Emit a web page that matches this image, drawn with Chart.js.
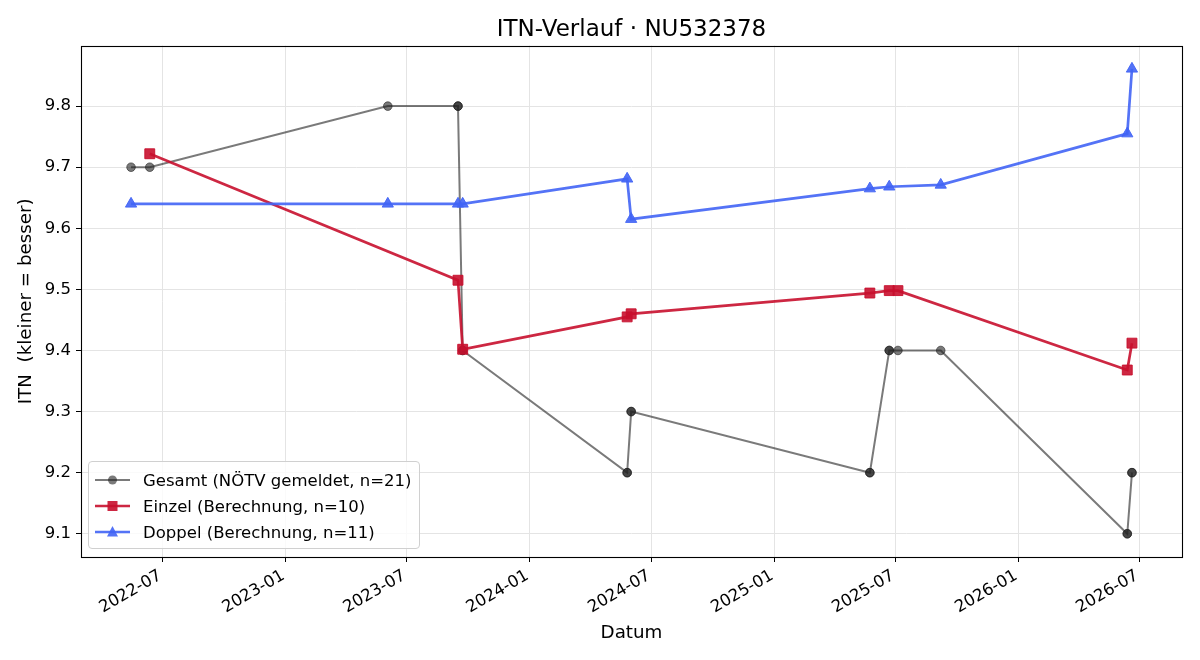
<!DOCTYPE html>
<html lang="de">
<head>
<meta charset="UTF-8">
<title>ITN-Verlauf</title>
<script src="https://cdn.jsdelivr.net/npm/chart.js"></script>
<style>
  body { margin: 0; background: #fff; }
  #wrap { position: relative; width: 1200px; height: 660px; }
  #legend {
    position: absolute; left: 88px; top: 461px; width: 330px; height: 81px;
    border: 1px solid #d0d0d0; border-radius: 4px; background: rgba(255,255,255,0.8);
    font-family: "DejaVu Sans", sans-serif; font-size: 16.5px; color: #000;
    box-sizing: content-box; padding-top: 5px;
  }
  #legend .row { height: 26px; display: flex; align-items: center; white-space: nowrap; }
  #legend svg { margin-left: 6px; margin-right: 13px; }
</style>
</head>
<body>
<div id="wrap">
  <canvas id="itn" width="1200" height="660"></canvas>
  <div id="legend"></div>
</div>
<script>
// data
const gesamtDates = ['2022-05-15', '2022-06-12', '2023-06-03', '2023-09-16', '2023-09-16', '2023-09-23', '2023-09-23',
    '2024-05-26', '2024-05-26', '2024-06-01', '2024-06-01', '2025-05-24', '2025-05-24', '2025-06-22', '2025-06-22',
    '2025-07-05', '2025-09-07', '2026-06-13', '2026-06-13', '2026-06-20', '2026-06-20'];
const gesamtValues = [9.7, 9.7, 9.8, 9.8, 9.8, 9.4, 9.4, 9.2, 9.2, 9.3, 9.3, 9.2, 9.2, 9.4, 9.4, 9.4, 9.4, 9.1, 9.1, 9.2, 9.2];

const einzelDates = ['2022-06-12', '2023-09-16', '2023-09-23', '2024-05-26', '2024-06-01', '2025-05-24', '2025-06-22',
    '2025-07-05', '2026-06-13', '2026-06-20'];
const einzelValues = [9.722, 9.515, 9.402, 9.455, 9.460, 9.494, 9.498, 9.498, 9.368, 9.412];

const doppelDates = ['2022-05-15', '2023-06-03', '2023-09-16', '2023-09-23', '2024-05-26', '2024-06-01', '2025-05-24',
    '2025-06-22', '2025-09-07', '2026-06-13', '2026-06-20'];
const doppelValues = [9.640, 9.640, 9.640, 9.640, 9.681, 9.615, 9.665, 9.668, 9.671, 9.755, 9.861];

const seriesLabels = ['Gesamt (NÖTV gemeldet, n=21)', 'Einzel (Berechnung, n=10)', 'Doppel (Berechnung, n=11)'];
const xTickLabels = ['2022-07', '2023-01', '2023-07', '2024-01', '2024-07', '2025-01', '2025-07', '2026-01', '2026-07'];
const yTickValues = [9.1, 9.2, 9.3, 9.4, 9.5, 9.6, 9.7, 9.8];

const FONT = '"DejaVu Sans", sans-serif';
const grayC = 'rgba(34,34,34,0.6)';
const redC = 'rgba(200,16,46,0.9)';
const blueC = 'rgba(65,100,245,0.9)';

const toTs = s => Date.parse(s + 'T00:00:00Z');
const pts = (dates, vals) => dates.map((d, i) => ({x: toTs(d), y: vals[i]}));

// matplotlib-like 5% margins
const allX = [...gesamtDates, ...einzelDates, ...doppelDates].map(toTs);
const allY = [...gesamtValues, ...einzelValues, ...doppelValues];
const xMin = Math.min(...allX), xMax = Math.max(...allX);
const yMin = Math.min(...allY), yMax = Math.max(...allY);
const xPad = (xMax - xMin) * 0.05, yPad = (yMax - yMin) * 0.05;

const frame = {
    id: 'frame',
    afterDraw(chart) {
        const {ctx, chartArea: a} = chart;
        ctx.save();
        ctx.strokeStyle = '#000';
        ctx.lineWidth = 1.1;
        ctx.strokeRect(Math.round(a.left) + 0.5, Math.round(a.top) + 0.5,
            Math.round(a.right - a.left), Math.round(a.bottom - a.top));
        ctx.restore();
    }
};

const tickFont = {family: FONT, size: 16.5};
const titleFont = {family: FONT, size: 18.3};

new Chart(document.getElementById('itn'), {
    type: 'line',
    data: {
        datasets: [
            {
                label: seriesLabels[0], data: pts(gesamtDates, gesamtValues), order: 2,
                borderColor: grayC, backgroundColor: grayC, borderWidth: 2,
                pointStyle: 'circle', pointRadius: 4.3, pointBorderWidth: 1,
                pointBackgroundColor: grayC, pointBorderColor: grayC
            },
            {
                label: seriesLabels[1], data: pts(einzelDates, einzelValues), order: 1,
                borderColor: redC, backgroundColor: redC, borderWidth: 2.7,
                pointStyle: 'rect', pointRadius: 7, pointBorderWidth: 1,
                pointBackgroundColor: redC, pointBorderColor: redC
            },
            {
                label: seriesLabels[2], data: pts(doppelDates, doppelValues), order: 0,
                borderColor: blueC, backgroundColor: blueC, borderWidth: 2.7,
                pointStyle: 'triangle', pointRadius: 6.5, pointBorderWidth: 1,
                pointBackgroundColor: blueC, pointBorderColor: blueC
            }
        ]
    },
    options: {
        responsive: false,
        animation: false,
        devicePixelRatio: 1,
        layout: {padding: {top: 0, right: 18, bottom: 0, left: 0}},
        plugins: {
            legend: {display: false},
            tooltip: {enabled: false},
            title: {
                display: true, text: 'ITN-Verlauf · NU532378', fullSize: false, color: '#000',
                font: {family: FONT, size: 23, weight: 'normal'},
                padding: {top: 16, bottom: 2}
            }
        },
        scales: {
            x: {
                type: 'linear',
                min: xMin - xPad,
                max: xMax + xPad,
                afterBuildTicks: s => { s.ticks = xTickLabels.map(l => ({value: toTs(l + '-01')})); },
                afterFit: s => { s.height = 103; },
                ticks: {
                    autoSkip: false, minRotation: 30, maxRotation: 30, padding: 4, labelOffset: -2,
                    color: '#000', font: tickFont,
                    callback: (v, i) => xTickLabels[i]
                },
                grid: {color: '#e4e4e4', lineWidth: 1, tickColor: '#000', tickLength: 5},
                border: {display: false},
                title: {display: true, text: 'Datum', color: '#000', font: titleFont, padding: {top: 0, bottom: 16}}
            },
            y: {
                type: 'linear',
                min: yMin - yPad,
                max: yMax + yPad,
                afterBuildTicks: s => { s.ticks = yTickValues.map(v => ({value: v})); },
                afterFit: s => { s.width = 81; },
                ticks: {padding: 5, color: '#000', font: tickFont, callback: v => v.toFixed(1)},
                grid: {color: '#e4e4e4', lineWidth: 1, tickColor: '#000', tickLength: 5},
                border: {display: false},
                title: {display: true, text: 'ITN  (kleiner = besser)', color: '#000', font: titleFont, padding: {top: 15, bottom: 0}}
            }
        }
    },
    plugins: [frame]
});

// legend inside the axes, lower left
const legendItems = [
    {text: seriesLabels[0], color: grayC, lw: 2, marker: '<circle cx="17.5" cy="8" r="4.5" fill="' + grayC + '"/>'},
    {text: seriesLabels[1], color: redC, lw: 2.7, marker: '<rect x="12.5" y="3" width="10" height="10" fill="' + redC + '"/>'},
    {text: seriesLabels[2], color: blueC, lw: 2.7, marker: '<polygon points="17.5,2 23,12.5 12,12.5" fill="' + blueC + '"/>'}
];
document.getElementById('legend').innerHTML = legendItems.map(it =>
    `<div class="row"><svg width="35" height="16" viewBox="0 0 35 16">` +
    `<line x1="0" y1="8" x2="35" y2="8" stroke="${it.color}" stroke-width="${it.lw}"/>${it.marker}</svg>` +
    `<span>${it.text}</span></div>`).join('');
</script>
</body>
</html>
